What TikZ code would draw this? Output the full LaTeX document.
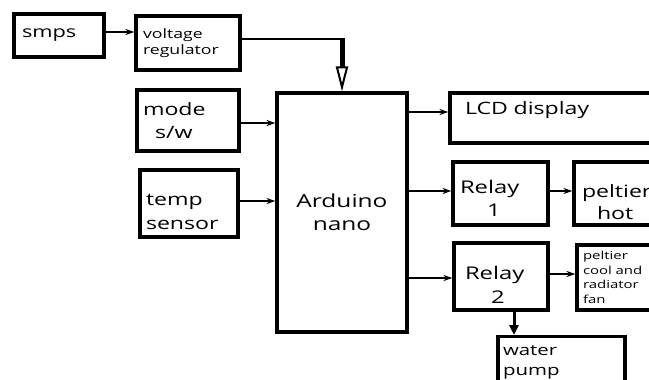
\documentclass[tikz,border=0pt]{standalone}
\usepackage{fontspec}
\setmainfont{Open Sans}[FakeStretch=1.36]
\usetikzlibrary{arrows.meta,calc,positioning}

\begin{document}
\begin{tikzpicture}[x=1pt,y=-1pt,>={Stealth[length=9pt,width=6pt]},
  blk/.style={draw=black,line width=3.1pt,inner ysep=0pt,align=left},
  arr/.style={->,line width=1.8pt}]
\useasboundingbox (0,0) rectangle (649,380);
\clip (0,0) rectangle (649,380);
% power side
\node[blk,minimum width=90,minimum height=43,inner xsep=8pt,text width=74pt,font=\fontsize{16}{18}\selectfont] (smps) at (59,35.5) {smps};
\node[blk,minimum width=104,minimum height=54,inner xsep=7pt,text width=90pt,font=\fontsize{13}{16}\selectfont] (vreg) at (188,43) {voltage\\regulator};
% inputs
\node[blk,minimum width=102,minimum height=61,inner xsep=6pt,text width=90pt,font=\fontsize{17}{23}\selectfont] (mode) at (188,120.5) {mode\\\hspace*{12pt}s/w};
\node[blk,minimum width=98,minimum height=67,inner xsep=6pt,text width=86pt,text depth=8pt,font=\fontsize{17}{24}\selectfont] (temp) at (189,203.5) {temp\\sensor};
\node[blk,minimum width=130,minimum height=239,inner xsep=6pt,text width=118pt,align=center,font=\fontsize{18}{23}\selectfont] (ard) at (342,212.5) {Arduino\\nano};
% outputs
\node[blk,minimum width=215,minimum height=50,inner xsep=15pt,text width=185pt,text depth=19pt,font=\fontsize{17}{22}\selectfont] (lcd) at (557.5,118) {LCD display};
\node[blk,minimum width=95,minimum height=63,inner xsep=7pt,text width=81pt,text depth=13.7pt,font=\fontsize{17.5}{23}\selectfont] (relay1) at (500.5,193.5) {Relay\\\hspace*{27pt}1};
\node[blk,minimum width=91,minimum height=63,inner xsep=8pt,text width=75pt,text depth=4pt,font=\fontsize{17}{22}\selectfont] (phot) at (619.5,193.5) {peltier\\\hspace*{15pt}hot};
\node[blk,minimum width=94,minimum height=67,inner xsep=11pt,text width=72pt,text depth=6.7pt,font=\fontsize{17.5}{24}\selectfont] (relay2) at (501,276.5) {Relay\\\hspace*{26pt}2};
\node[blk,minimum width=88,minimum height=65,inner xsep=6pt,text width=76pt,font=\fontsize{11}{14.7}\selectfont] (pcool) at (621,277.5) {peltier\\cool and\\radiator\\fan};
\node[blk,anchor=north,minimum width=127,inner xsep=5pt,inner ysep=9.2pt,text width=117pt,font=\fontsize{15}{20}\selectfont] (pump) at (561.5,335) {water\\pump};
% connectors
\draw[arr] ([yshift=3.5pt]smps.east) coordinate (s1) -- (s1 -| vreg.west);
\draw[line width=1.5pt] ([yshift=4pt]vreg.east) coordinate (v1) -- (v1 -| ard.north) coordinate (v2);
\draw[line width=5pt,-{Triangle[open,length=25pt,width=12pt,line width=2pt]}] ([yshift=0.75pt]v2) -- (ard.north);
\draw[arr] ([yshift=-2.5pt]mode.east) coordinate (m1) -- (m1 -| ard.west);
\draw[arr] ([yshift=2.5pt]temp.east) coordinate (t1) -- (t1 -| ard.west);
\draw[arr] ([yshift=6pt]lcd.west) coordinate (l1) (ard.east |- l1) -- (l1);
\draw[arr] ([yshift=2.5pt]relay1.west) coordinate (r1) (ard.east |- r1) -- (r1);
\draw[arr] ([yshift=-1.5pt]relay2.west) coordinate (r2) (ard.east |- r2) -- (r2);
\draw[arr] ([yshift=2.5pt]relay1.east) coordinate (h1) -- (h1 -| phot.west);
\draw[arr] ([yshift=2.5pt]relay2.east) coordinate (c1) -- (c1 -| pcool.west);
\draw[line width=3pt,-{Triangle[length=10pt,width=9pt]}] ([xshift=13pt]relay2.south) coordinate (p1) -- (p1 |- pump.north);
\end{tikzpicture}
\end{document}
